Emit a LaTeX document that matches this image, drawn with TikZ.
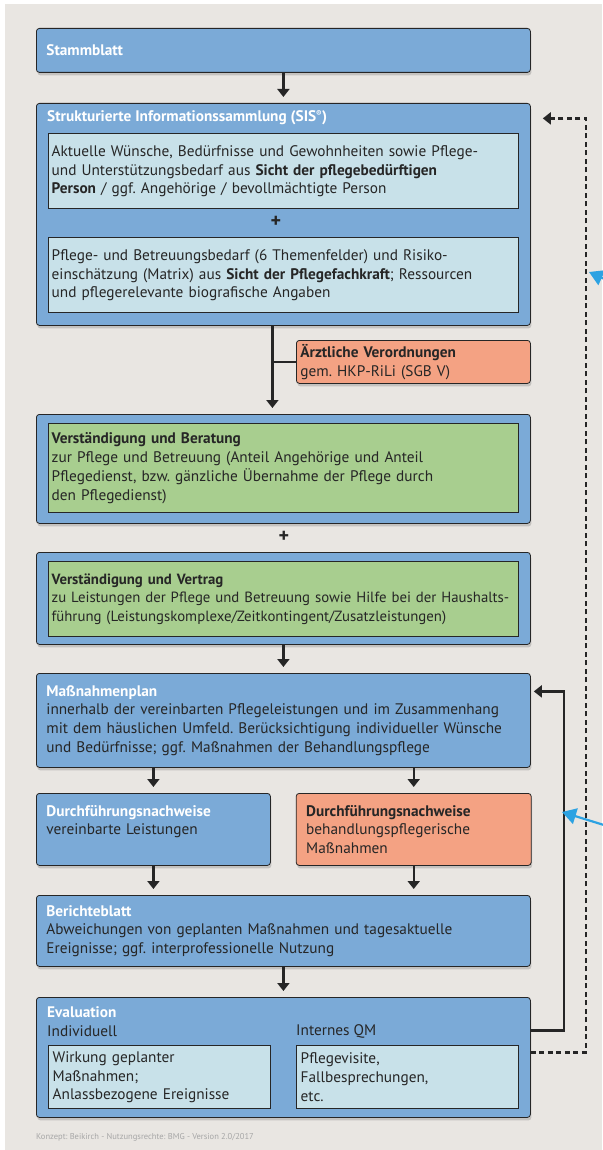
\documentclass[tikz,border=0pt]{standalone}
\usepackage{fontspec}
\setmainfont{PT Sans}
\usepackage{xcolor}
\usepackage{tikz}
\usetikzlibrary{positioning,shadows,arrows.meta}
\definecolor{panel}{HTML}{E9E6E2}
\definecolor{sisblue}{HTML}{7BAAD7}
\definecolor{pale}{HTML}{C8E1E9}
\definecolor{sage}{HTML}{A8CE8F}
\definecolor{salmon}{HTML}{F4A283}
\definecolor{ink}{HTML}{262626}
\definecolor{pointer}{HTML}{2CA2E2}
\newcommand{\hd}[1]{\textcolor{white}{\textbf{#1}}}
\newcommand{\bodyfont}{\fontsize{15.3}{18.7}\selectfont}
\frenchspacing

\begin{document}
\begin{tikzpicture}[x=1pt,y=-1pt,every node/.style={font=\bodyfont,text=ink},
      box/.style={draw=ink,line width=.8pt,fill=sisblue,rounded corners=3pt,
        drop shadow={shadow xshift=1pt,shadow yshift=-3pt,opacity=.35},
        anchor=north west,minimum width=494pt,text width=474pt,inner xsep=10pt,align=left},
      inbox/.style={draw=ink,line width=1.4pt,fill=pale,anchor=north west,
        minimum width=470pt,text width=464pt,inner xsep=3pt,align=left},
      plus/.style={font=\fontsize{20}{20}\selectfont\bfseries,inner sep=0pt},
      arrow/.style={-{Triangle[width=12pt,length=8pt]},line width=2.2pt,draw=ink,shorten >=6pt},
      link/.style={line width=2.2pt,draw=ink},
      pointer/.style={-{Triangle[width=16pt,length=14pt]},line width=2.2pt,draw=pointer}]
      \useasboundingbox (0,0) rectangle (602,1150);
      \fill[white] (0,0) rectangle (602,1150);
      \fill[panel] (5,4) rectangle (602,1150);
      % Stammblatt and SIS
      \node[box,minimum height=44pt] (stamm) at (36,28) {\hd{Stammblatt}};
      \node[box,minimum height=222pt] (sis) at (36,103) {};
      \node[anchor=west,inner sep=0pt] (sistitle) at (47,118) {\hd{Strukturierte Informationssammlung (SIS\textsuperscript{\footnotesize®})}};
      \node[inbox,minimum height=75pt] (wish) at (48,133) {Aktuelle Wünsche, Bedürfnisse und Gewohnheiten sowie Pflege-\\und Unterstützungsbedarf aus \textbf{Sicht der pflegebedürftigen}\\\textbf{Person} / ggf. Angehörige / bevollmächtigte Person};
      \node[plus] (plusa) at (276,222) {+};
      \node[inbox,minimum height=75pt] (risk) at (48,237) {Pflege- und Betreuungsbedarf (6 Themenfelder) und Risiko-\\einschätzung (Matrix) aus \textbf{Sicht der Pflegefachkraft}; Ressourcen\\und pflegerelevante biografische Angaben};
      \node[box,fill=salmon,minimum width=234pt,text width=226pt,inner xsep=4pt,minimum height=43pt] (arzt) at (296,340) {\textbf{Ärztliche Verordnungen}\\gem. HKP-RiLi (SGB V)};
      % Verstaendigung
      \node[box,minimum height=109pt] (berat) at (36,414) {};
      \node[inbox,fill=sage,minimum height=89pt] (beratin) at (48,423) {\textbf{Verständigung und Beratung}\\zur Pflege und Betreuung (Anteil Angehörige und Anteil\\Pflegedienst, bzw. gänzliche Übernahme der Pflege durch\\den Pflegedienst)};
      \node[plus] (plusb) at (284,537) {+};
      \node[box,minimum height=92pt] (vertrag) at (36,552) {};
      \node[inbox,fill=sage,minimum height=75pt,font=\fontsize{14.8}{18.7}\selectfont] (vertragin) at (48,561) {\textbf{Verständigung und Vertrag}\\zu Leistungen der Pflege und Betreuung sowie Hilfe bei der Haushalts-\\führung (Leistungskomplexe/Zeitkontingent/Zusatzleistungen)};
      % Massnahmen
      \node[box,minimum height=94pt] (plan) at (36,673) {\hd{Maßnahmenplan}\\innerhalb der vereinbarten Pflegeleistungen und im Zusammenhang\\mit dem häuslichen Umfeld. Berücksichtigung individueller Wünsche\\und Bedürfnisse; ggf. Maßnahmen der Behandlungspflege};
      \node[box,minimum width=234pt,text width=214pt,minimum height=72pt] (durch) at (36,793) {\hd{Durchführungsnachweise}\\vereinbarte Leistungen\\\mbox{}};
      \node[box,fill=salmon,minimum width=235pt,text width=215pt,minimum height=72pt,right=25pt of durch] (behand) {\textbf{Durchführungsnachweise}\\behandlungspflegerische\\Maßnahmen};
      \node[box,minimum height=71pt] (bericht) at (36,895) {\hd{Berichteblatt}\\Abweichungen von geplanten Maßnahmen und tagesaktuelle\\Ereignisse; ggf. interprofessionelle Nutzung};
      % Evaluation
      \node[box,minimum height=120pt] (eval) at (36,997) {};
      \node[anchor=west,inner sep=0pt] (evaltitle) at (47,1012) {\hd{Evaluation}};
      \node[anchor=west,inner sep=0pt] (indiv) at (47,1031) {Individuell};
      \node[anchor=west,inner sep=0pt] (qm) at (296,1031) {Internes QM};
      \node[inbox,minimum width=222pt,text width=214pt,inner xsep=4pt,minimum height=63pt] (wirkung) at (48,1045) {Wirkung geplanter\\Maßnahmen;\\Anlassbezogene Ereignisse};
      \node[inbox,minimum width=222pt,text width=214pt,inner xsep=4pt,minimum height=63pt] (visite) at (296,1045) {Pflegevisite,\\Fallbesprechungen,\\etc.};
      \node[anchor=west,inner sep=0pt,font=\fontsize{8.5}{10}\selectfont,text=black!35] (credit) at (36,1137) {Konzept: Beikirch - Nutzungsrechte: BMG - Version 2.0/2017};
      % connectors
      \coordinate (fork) at ([xshift=-11pt]sis.south);
      \draw[arrow] (stamm) -- (sis);
      \draw[arrow] (fork) -- (fork |- berat.north);
      \draw[link] (arzt.west) -- (arzt.west -| fork);
      \draw[arrow] (vertrag) -- (plan);
      \draw[arrow] (plan.south -| durch) -- (durch);
      \draw[arrow] (plan.south -| behand) -- (behand);
      \draw[arrow] (durch) -- (durch |- bericht.north);
      \draw[arrow] (behand) -- (behand |- bericht.north);
      \draw[arrow] (bericht) -- (eval);
      \draw[arrow,shorten >=3pt] ([yshift=27pt]eval.east) -- ++(33,0) |- ([yshift=29pt]plan.east);
      \draw[arrow,line width=2.4pt,dash pattern=on 5pt off 3.5pt,shorten >=12pt] ([yshift=5pt]eval.east) -- ++(55,0) |- ([yshift=96pt]sis.east);
      % blue pointers from the right margin
      \coordinate (pa) at (620,286);
      \coordinate (patip) at (589,272);
      \coordinate (pb) at (620,830);
      \coordinate (pbtip) at (562,812);
      \draw[pointer] (pa) -- (patip);
      \draw[pointer] (pb) -- (pbtip);
    \end{tikzpicture}
\end{document}
